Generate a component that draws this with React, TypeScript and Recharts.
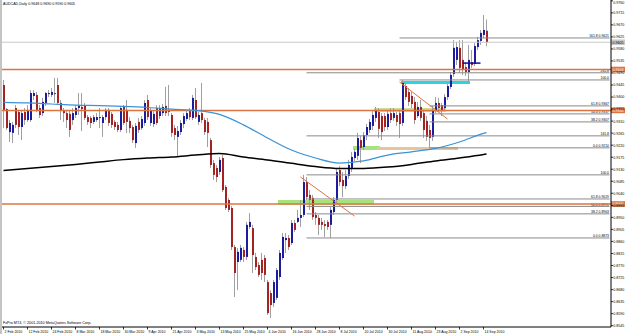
import { ComposedChart, Bar, Line, XAxis, YAxis, ReferenceLine, ReferenceArea } from "recharts";

// trading days shown on the chart (weekdays only)
const febDays = [2, 3, 4, 5, 8, 9, 10, 11, 12, 15, 16, 17, 18, 19, 22, 23, 24, 25, 26];
const marDays = [1, 2, 3, 4, 5, 8, 9, 10, 11, 12, 15, 16, 17, 18, 19, 22, 23, 24, 25, 26, 29, 30, 31];
const aprDays = [1, 2, 5, 6, 7, 8, 9, 12, 13, 14, 15, 16, 19, 20, 21, 22, 23, 26, 27, 28, 29, 30];
const mayDays = [3, 4, 5, 6, 7, 10, 11, 12, 13, 14, 17, 18, 19, 20, 21, 24, 25, 26, 27, 28, 31];
const junDays = [1, 2, 3, 4, 7, 8, 9, 10, 11, 14, 15, 16, 17, 18, 21, 22, 23, 24, 25, 28, 29, 30];
const julDays = [1, 2, 5, 6, 7, 8, 9, 12, 13, 14, 15, 16, 19, 20, 21, 22, 23, 26, 27, 28, 29, 30];
const augDays = [2, 3, 4, 5, 6, 9, 10, 11, 12, 13, 16, 17, 18, 19, 20, 23, 24, 25, 26, 27, 30, 31];
const sepDays = [1, 2, 3, 6, 7, 8, 9, 10, 13, 14, 15];

const tickLabels = [
  "2 Feb 2010", "12 Feb 2010", "24 Feb 2010", "8 Mar 2010", "18 Mar 2010", "30 Mar 2010",
  "9 Apr 2010", "21 Apr 2010", "3 May 2010", "13 May 2010", "25 May 2010", "4 Jun 2010",
  "16 Jun 2010", "28 Jun 2010", "8 Jul 2010", "20 Jul 2010", "30 Jul 2010", "11 Aug 2010",
  "23 Aug 2010", "2 Sep 2010", "14 Sep 2010",
];

const priceTicks = [
  0.976, 0.9715, 0.967, 0.9625, 0.958, 0.9535, 0.949, 0.9445, 0.94, 0.9355, 0.931, 0.9265,
  0.922, 0.9175, 0.913, 0.9085, 0.904, 0.8995, 0.895, 0.8905, 0.886, 0.8815, 0.877, 0.8725,
  0.868, 0.8635, 0.859, 0.8545,
];

const opens = [
  0.9445, 0.9355, 0.9269, 0.9266, 0.9359, 0.9344, 0.9288, 0.9344, 0.9314, 0.9314,
  0.9404, 0.9408, 0.9359, 0.934, 0.9378, 0.9411, 0.9408, 0.9415, 0.9445, 0.9378,
  0.9348, 0.934, 0.9337, 0.9314, 0.9333, 0.9359, 0.9363, 0.937, 0.9325, 0.9322,
  0.9307, 0.9314, 0.9322, 0.9303, 0.9325, 0.9352, 0.9337, 0.9307, 0.9296, 0.9277,
  0.9363, 0.9352, 0.9311, 0.9288, 0.9228, 0.9307, 0.9284, 0.9303, 0.9389, 0.9303,
  0.9299, 0.9359, 0.9329, 0.934, 0.9367, 0.9352, 0.9333, 0.9284, 0.9251, 0.9269,
  0.9299, 0.9318, 0.9348, 0.9322, 0.9389, 0.9307, 0.934, 0.9314, 0.9307, 0.9239,
  0.9153, 0.9135, 0.912, 0.9172, 0.9064, 0.9015, 0.8985, 0.8839, 0.8783, 0.8791,
  0.8828, 0.8802, 0.8914, 0.891, 0.8802, 0.8772, 0.8791, 0.8798, 0.8708, 0.8667,
  0.863, 0.8649, 0.8727, 0.8798, 0.8865, 0.8873, 0.8854, 0.8929, 0.8933, 0.8948,
  0.8959, 0.9082, 0.9034, 0.9023, 0.8959, 0.8948, 0.8933, 0.8925, 0.8933, 0.8922,
  0.897, 0.9015, 0.9127, 0.909, 0.9067, 0.9105, 0.9135, 0.9172, 0.918, 0.9239,
  0.9213, 0.9258, 0.9277, 0.9292, 0.9322, 0.9344, 0.9329, 0.9329, 0.9288, 0.934,
  0.9322, 0.9333, 0.934, 0.9303, 0.9441, 0.9419, 0.9404, 0.9382, 0.9329, 0.9363,
  0.934, 0.9311, 0.9277, 0.9251, 0.9348, 0.9378, 0.937, 0.9359, 0.94, 0.9438,
  0.9486, 0.9539, 0.9584, 0.9539, 0.9512, 0.9494, 0.9531, 0.9524, 0.9587, 0.961,
  0.9632, 0.9648,
];

const highs = [
  0.9464, 0.9359, 0.9314, 0.9307, 0.937, 0.9352, 0.9352, 0.9359, 0.937, 0.9426,
  0.9426, 0.9419, 0.937, 0.9397, 0.9419, 0.9426, 0.9434, 0.9471, 0.9471, 0.9389,
  0.9359, 0.9348, 0.9352, 0.9359, 0.937, 0.9415, 0.9415, 0.9378, 0.9333, 0.9329,
  0.9333, 0.934, 0.9359, 0.9333, 0.9359, 0.9359, 0.9344, 0.9314, 0.9307, 0.9367,
  0.937, 0.9389, 0.9325, 0.9296, 0.9303, 0.9322, 0.9329, 0.9389, 0.9408, 0.9359,
  0.9348, 0.937, 0.937, 0.9374, 0.9438, 0.9445, 0.934, 0.9296, 0.9292, 0.9314,
  0.934, 0.9352, 0.9359, 0.9408, 0.9434, 0.9344, 0.9453, 0.9322, 0.9322, 0.9247,
  0.9165, 0.9146, 0.9176, 0.9183, 0.9071, 0.9023, 0.8993, 0.8847, 0.8836, 0.8847,
  0.8839, 0.8933, 0.8966, 0.8922, 0.8817, 0.8783, 0.8817, 0.8809, 0.8716, 0.8678,
  0.8716, 0.8761, 0.8828, 0.8892, 0.8892, 0.8884, 0.894, 0.894, 0.8978, 0.9015,
  0.9109, 0.9101, 0.9052, 0.9034, 0.897, 0.8959, 0.8948, 0.894, 0.894, 0.8989,
  0.9026, 0.9135, 0.9142, 0.912, 0.9127, 0.9165, 0.9195, 0.9206, 0.9266, 0.9254,
  0.9269, 0.9299, 0.9318, 0.9348, 0.9363, 0.9359, 0.934, 0.934, 0.9352, 0.9359,
  0.9359, 0.9344, 0.9352, 0.9464, 0.9456, 0.9434, 0.9419, 0.94, 0.9382, 0.9389,
  0.9352, 0.9329, 0.9296, 0.9367, 0.94, 0.9397, 0.9378, 0.9411, 0.9449, 0.9494,
  0.9613, 0.9606, 0.9613, 0.9613, 0.9531, 0.9595, 0.9576, 0.9602, 0.9625, 0.9651,
  0.9707, 0.969,
];

const lows = [
  0.9284, 0.9277, 0.9232, 0.9228, 0.9284, 0.9258, 0.9239, 0.9296, 0.9307, 0.9307,
  0.9389, 0.9344, 0.9322, 0.9329, 0.9367, 0.94, 0.94, 0.9378, 0.937, 0.9314,
  0.9307, 0.9284, 0.9251, 0.9296, 0.9322, 0.9333, 0.9273, 0.9314, 0.9296, 0.9284,
  0.9299, 0.9307, 0.9284, 0.9251, 0.9314, 0.9292, 0.9284, 0.9277, 0.9269, 0.9269,
  0.9296, 0.9266, 0.9266, 0.9228, 0.921, 0.9266, 0.9277, 0.9292, 0.9314, 0.9292,
  0.9288, 0.9296, 0.9318, 0.9329, 0.9329, 0.9329, 0.9251, 0.9239, 0.9176, 0.9258,
  0.9284, 0.9311, 0.9314, 0.9314, 0.9318, 0.9296, 0.9303, 0.9258, 0.9213, 0.9135,
  0.909, 0.9082, 0.9109, 0.9045, 0.8978, 0.897, 0.8828, 0.8652, 0.8678, 0.8783,
  0.8783, 0.8791, 0.8907, 0.8742, 0.8753, 0.8727, 0.8716, 0.8708, 0.8585, 0.8574,
  0.8615, 0.8641, 0.8716, 0.8791, 0.8817, 0.8828, 0.8847, 0.8895, 0.8929, 0.8914,
  0.8951, 0.9015, 0.8978, 0.894, 0.8922, 0.8884, 0.8903, 0.8877, 0.8903, 0.8873,
  0.8959, 0.9004, 0.9067, 0.9026, 0.9056, 0.9094, 0.912, 0.9161, 0.9165, 0.9153,
  0.9202, 0.9239, 0.9266, 0.9277, 0.9307, 0.9247, 0.9239, 0.9273, 0.9277, 0.9303,
  0.9311, 0.9292, 0.9247, 0.9292, 0.9389, 0.9367, 0.9359, 0.9299, 0.9322, 0.9311,
  0.9247, 0.9236, 0.921, 0.9236, 0.934, 0.9344, 0.9329, 0.9348, 0.9389, 0.943,
  0.9475, 0.952, 0.949, 0.9483, 0.9479, 0.9456, 0.9509, 0.9516, 0.9576, 0.9595,
  0.9621, 0.959,
];

const closes = [
  0.9352, 0.9284, 0.9303, 0.9296, 0.9296, 0.9288, 0.934, 0.9314, 0.9352, 0.9415,
  0.9415, 0.9352, 0.9333, 0.9382, 0.9415, 0.9415, 0.9419, 0.9411, 0.9378, 0.9348,
  0.934, 0.9314, 0.9277, 0.934, 0.9359, 0.9367, 0.9355, 0.9322, 0.9307, 0.9303,
  0.9325, 0.9325, 0.9325, 0.9325, 0.9352, 0.9303, 0.9296, 0.9288, 0.9277, 0.9359,
  0.9303, 0.9307, 0.9284, 0.9239, 0.9292, 0.9277, 0.9318, 0.9378, 0.9325, 0.9348,
  0.9337, 0.9303, 0.9359, 0.9363, 0.934, 0.9344, 0.9266, 0.9258, 0.9273, 0.9303,
  0.9329, 0.934, 0.9325, 0.9397, 0.9325, 0.9333, 0.9314, 0.9269, 0.9266, 0.9146,
  0.9109, 0.9101, 0.9165, 0.9052, 0.8985, 0.8978, 0.8839, 0.8742, 0.8821, 0.8836,
  0.8802, 0.8922, 0.8933, 0.8809, 0.8764, 0.8735, 0.8742, 0.8735, 0.8592, 0.8622,
  0.8708, 0.8753, 0.8817, 0.8877, 0.8873, 0.8839, 0.8929, 0.8903, 0.8948, 0.8959,
  0.9082, 0.9026, 0.9015, 0.8951, 0.8948, 0.8922, 0.8922, 0.8918, 0.8914, 0.8978,
  0.9015, 0.912, 0.9082, 0.9067, 0.9105, 0.9146, 0.9176, 0.9195, 0.9247, 0.921,
  0.9258, 0.9288, 0.9307, 0.9333, 0.9352, 0.9281, 0.9269, 0.9288, 0.9337, 0.9314,
  0.934, 0.9307, 0.9299, 0.9453, 0.94, 0.9382, 0.9374, 0.9314, 0.9363, 0.9322,
  0.9277, 0.9251, 0.9247, 0.9352, 0.9378, 0.9359, 0.9348, 0.94, 0.9441, 0.9483,
  0.9584, 0.9587, 0.9509, 0.9501, 0.9494, 0.9539, 0.952, 0.9591, 0.9613, 0.964,
  0.9651, 0.9605,
];

// moving averages read at every 8th bar (and the last one)
const maBars = [0, 8, 16, 24, 32, 40, 48, 56, 64, 72, 80, 88, 96, 104, 112, 120, 128, 136, 144, 152, 160, 161];
const maFast = [
  0.938, 0.9378, 0.9374, 0.937, 0.9368, 0.9365, 0.9361, 0.9355, 0.935, 0.9335, 0.9296,
  0.9247, 0.9202, 0.9172, 0.9153, 0.9161, 0.9183, 0.9195, 0.9208, 0.9232, 0.9264, 0.9267,
];
const maSlow = [
  0.9125, 0.9133, 0.914, 0.9148, 0.9157, 0.9166, 0.9172, 0.9176, 0.9183, 0.9189, 0.9176,
  0.9165, 0.9152, 0.914, 0.9133, 0.9133, 0.9138, 0.9148, 0.9161, 0.9172, 0.9185, 0.9187,
];

const levelLines = [0.9503, 0.935, 0.9];
const bidPrice = 0.9605;

const fibALevels = [0, 38.2, 50, 61.8, 100, 161.8, 261.8];
const fibAPriced = [true, true, true, true, false, false, false];
const fibALow = 0.8873;
const fibAHigh = 0.9109;

const fibBLevels = [0, 38.2, 50, 61.8, 100, 161.8];
const fibBPriced = [true, true, true, true, false, true];
const fibBLow = 0.921;
const fibBHigh = 0.9464;

const BULL = "#1c1c9c";
const BEAR = "#a32323";
const WICK = "#a0a0a0";
const ORANGE = "#dc7440";
const FIB = "#8a8a8a";
const FONT = "Liberation Sans, Arial, sans-serif";

const dates = [
  ...febDays.map((d) => `${d} Feb 2010`),
  ...marDays.map((d) => `${d} Mar 2010`),
  ...aprDays.map((d) => `${d} Apr 2010`),
  ...mayDays.map((d) => `${d} May 2010`),
  ...junDays.map((d) => `${d} Jun 2010`),
  ...julDays.map((d) => `${d} Jul 2010`),
  ...augDays.map((d) => `${d} Aug 2010`),
  ...sepDays.map((d) => `${d} Sep 2010`),
];

const SLOTS = 203; // empty space to the right of the last bar (chart shift)
const lastDate = "pad" + (SLOTS - dates.length - 1);

const data: any[] = dates.map((date, i) => {
  const k = maBars.indexOf(i);
  return {
    date,
    o: opens[i],
    h: highs[i],
    l: lows[i],
    c: closes[i],
    range: [lows[i], highs[i]],
    maFast: k >= 0 ? maFast[k] : null,
    maSlow: k >= 0 ? maSlow[k] : null,
  };
});
for (let k = 0; k < SLOTS - dates.length; k++) data.push({ date: "pad" + k });

function Candle(props: any) {
  const { x, y, width, height, payload } = props;
  if (!payload || payload.o == null) return null;
  const { o, h, l, c } = payload;
  const top = Math.min(y, y + height);
  const hh = Math.abs(height);
  const py = (v: number) => top + (h === l ? 0 : ((h - v) / (h - l)) * hh);
  const b1 = Math.min(py(o), py(c));
  const b2 = Math.max(py(o), py(c));
  const left = Math.round(x + width / 2) - 1;
  return (
    <g>
      <rect x={left} y={top} width={1} height={Math.max(hh, 1)} fill={WICK} />
      <rect x={left} y={b1} width={2} height={Math.max(b2 - b1, 1)} fill={c >= o ? BULL : BEAR} />
    </g>
  );
}

function DateTick(props: any) {
  const { x, payload } = props;
  return (
    <g>
      <line x1={x} x2={x} y1={327} y2={329.5} stroke="#000" strokeWidth={0.8} />
      <text x={x + 1} y={333} fontSize={3.5} fontFamily={FONT} fill="#000">
        {payload.value}
      </text>
    </g>
  );
}

function PriceTick(props: any) {
  const { y, payload } = props;
  return (
    <g>
      <line x1={611} x2={613} y1={y} y2={y} stroke="#000" strokeWidth={0.8} />
      <text x={613.3} y={Math.max(y + 1.4, 4)} fontSize={4} fontFamily={FONT} fill="#000" textLength={11} lengthAdjust="spacingAndGlyphs">
        {payload.value.toFixed(4)}
      </text>
    </g>
  );
}

const priceTag = (text: string, bg: string, fg: string) => (props: any) => {
  const vb = props.viewBox || {};
  const x = (vb.x || 0) + (vb.width || 0);
  const y = vb.y || 0;
  return (
    <g>
      <rect x={x} y={y - 2.8} width={14} height={5.6} fill={bg} />
      <text x={x + 1.5} y={y + 1.4} fontSize={4} fontFamily={FONT} fill={fg} textLength={11} lengthAdjust="spacingAndGlyphs">
        {text}
      </text>
    </g>
  );
};

const fibTag = (text: string) => (props: any) => {
  const vb = props.viewBox || {};
  const x = (vb.x || 0) + (vb.width || 0);
  const y = Math.min(vb.y || 0, (vb.y || 0) + (vb.height || 0));
  return (
    <text x={x - 0.5} y={y - 0.8} fontSize={3.4} fontFamily={FONT} fill="#000" textAnchor="end">
      {text}
    </text>
  );
};

function fibLines(key: string, levels: number[], priced: boolean[], low: number, high: number, starts: number[]) {
  return levels.map((lv, i) => {
    const p = low + (lv / 100) * (high - low);
    const text = priced[i] ? `${lv.toFixed(1)} ${p.toFixed(4)}` : lv.toFixed(1);
    return (
      <ReferenceLine
        key={key + i}
        segment={[
          { x: dates[starts[i]], y: p },
          { x: lastDate, y: p },
        ]}
        stroke={FIB}
        strokeWidth={1}
        ifOverflow="visible"
        label={fibTag(text)}
      />
    );
  });
}

export default function App() {
  return (
    <div style={{ position: "absolute", left: 0, top: 0, width: 625, height: 334, background: "#fff", overflow: "hidden" }}>
      <ComposedChart
        width={625}
        height={334}
        data={data}
        margin={{ top: 0, right: 0, bottom: 0, left: 2 }}
        barCategoryGap={0}
        barGap={0}
      >
        <XAxis
          dataKey="date"
          ticks={tickLabels}
          interval={0}
          height={7}
          tickLine={false}
          axisLine={{ stroke: "#000" }}
          tick={<DateTick />}
        />
        <YAxis
          orientation="right"
          type="number"
          domain={[0.854, 0.9763]}
          ticks={priceTicks}
          interval={0}
          allowDataOverflow
          width={14}
          tickLine={false}
          axisLine={{ stroke: "#000" }}
          tick={<PriceTick />}
        />

        <ReferenceArea x1={dates[133]} x2={dates[155]} y1={0.9449} y2={0.946} fill="#2ad4e0" fillOpacity={1} stroke="none" ifOverflow="visible" />
        <ReferenceArea x1={dates[92]} x2={dates[123]} y1={0.8997} y2={0.9015} fill="#a6e37f" fillOpacity={1} stroke="none" ifOverflow="visible" />
        <ReferenceArea x1={dates[117]} x2={dates[125]} y1={0.9202} y2={0.9217} fill="#a6e37f" fillOpacity={1} stroke="none" ifOverflow="visible" />
        <ReferenceArea x1={dates[125]} x2={dates[151]} y1={0.9202} y2={0.9213} fill="#e8c49a" fillOpacity={1} stroke="none" ifOverflow="visible" />
        <ReferenceArea x1={dates[124]} x2={dates[147]} y1={0.9344} y2={0.9359} fill="#d3dd92" fillOpacity={1} stroke="none" ifOverflow="visible" />

        {fibLines("fa", fibALevels, fibAPriced, fibALow, fibAHigh, [101, 101, 101, 101, 101, 101, 101])}
        {fibLines("fb", fibBLevels, fibBPriced, fibBLow, fibBHigh, [142, 142, 142, 142, 132, 132])}

        <ReferenceLine y={bidPrice} stroke="#c8c8c8" strokeWidth={1} label={priceTag(bidPrice.toFixed(4), "#c8c8c8", "#000")} />
        {levelLines.map((p) => (
          <ReferenceLine key={p} y={p} stroke={ORANGE} strokeWidth={1.5} label={priceTag(p.toFixed(4), ORANGE, "#fff")} />
        ))}

        <Bar dataKey="range" shape={<Candle />} isAnimationActive={false} />

        <Line dataKey="maFast" type="monotone" stroke="#3a92d8" strokeWidth={1.2} dot={false} connectNulls isAnimationActive={false} />
        <Line dataKey="maSlow" type="monotone" stroke="#000" strokeWidth={1.5} dot={false} connectNulls isAnimationActive={false} />

        <ReferenceLine segment={[{ x: dates[99], y: 0.9101 }, { x: dates[117], y: 0.8955 }]} stroke={ORANGE} strokeWidth={1} ifOverflow="visible" />
        <ReferenceLine segment={[{ x: dates[132], y: 0.9456 }, { x: dates[148], y: 0.9318 }]} stroke={ORANGE} strokeWidth={1} ifOverflow="visible" />
        <ReferenceLine segment={[{ x: dates[153], y: 0.9527 }, { x: dates[159], y: 0.9527 }]} stroke="#1010a0" strokeWidth={1.5} ifOverflow="visible" />
      </ComposedChart>
      <svg width={625} height={334} style={{ position: "absolute", left: 0, top: 0, pointerEvents: "none" }}>
        <rect x={0} y={0} width={2} height={334} fill="#c4c4c4" />
        <text x={3} y={5} fontSize={3.6} fontFamily={FONT} fill="#000">
          AUDCAD,Daily 0.9648 0.9690 0.9590 0.9605
        </text>
        <text x={3} y={324} fontSize={3.7} fontFamily={FONT} fill="#000">
          FxPro MT4, © 2001-2010 MetaQuotes Software Corp.
        </text>
      </svg>
    </div>
  );
}
